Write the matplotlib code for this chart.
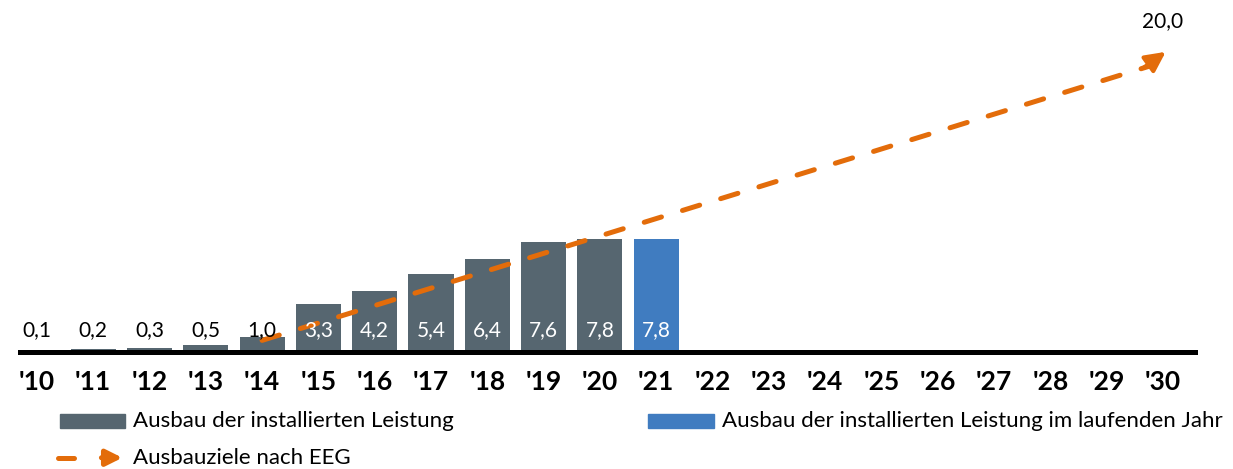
import numpy as np
import matplotlib
matplotlib.use('Agg')
from matplotlib import pyplot as plt
import matplotlib.patches as mpatches
from matplotlib.lines import Line2D

plt.rcParams['font.family'] = ['Lato', 'DejaVu Sans']

# installed capacity additions per year (GW)
years = np.arange(2010, 2022)
values = [0.1, 0.2, 0.3, 0.5, 1.0, 3.3, 4.2, 5.4, 6.4, 7.6, 7.8, 7.8]
current_year = 2021
axis_years = np.arange(2010, 2031)
tick_labels = ["'%02d" % (y % 100) for y in axis_years]

# EEG target path
goal_years = [2014, 2030]
goal_values = [0.8, 20.0]
goal_label = '20,0'

gray = '#566670'
blue = '#407cc0'
orange = '#e36c0a'

fig = plt.figure(figsize=(12.33, 4.69), dpi=100)
ax = fig.add_axes([0.0162, 0.2495, 0.953, 0.742])

colors = [blue if y == current_year else gray for y in years]
ax.bar(years, values, width=0.8, color=colors, zorder=2)

for y, v in zip(years, values):
    c = 'white' if v > 2 else 'black'
    ax.text(y, 1.5, ('%.1f' % v).replace('.', ','), ha='center', va='center',
            fontsize=15, color=c, zorder=4)

# dashed target line with arrow head
x0, x1 = goal_years
y0, y1 = goal_values
t_end = 0.985
xe = x0 + (x1 - x0) * t_end
ye = y0 + (y1 - y0) * t_end
ax.plot([x0, xe], [y0, ye], color=orange, lw=3.6, dashes=(3.6, 4.4),
        dash_capstyle='round', solid_capstyle='round', zorder=3)
ax.annotate('', xy=(x1 + 0.05, y1 + 0.7), xytext=(xe - 0.1, ye - 0.1),
            arrowprops=dict(arrowstyle='-|>', color=orange, lw=3.0,
                            mutation_scale=30, shrinkA=0, shrinkB=0),
            zorder=3)
ax.text(x1, 22.8, goal_label, ha='center', va='center', fontsize=15)

ax.axhline(0, color='black', lw=3.6, zorder=5, clip_on=False)
ax.set_xlim(2009.7, 2030.57)
ax.set_ylim(0, 24)
ax.set_xticks(axis_years)
ax.set_xticklabels(tick_labels, fontsize=19, fontweight='bold')
ax.tick_params(axis='x', length=0, pad=13)
ax.set_yticks([])
for s in ax.spines.values():
    s.set_visible(False)

# legend
r1 = 0.1023
fig.patches.append(mpatches.Rectangle((0.0487, r1 - 0.015), 0.0527, 0.030,
                                      color=gray, transform=fig.transFigure))
fig.text(0.1079, r1, 'Ausbau der installierten Leistung', va='center', fontsize=16)
fig.patches.append(mpatches.Rectangle((0.5256, r1 - 0.015), 0.0535, 0.030,
                                      color=blue, transform=fig.transFigure))
fig.text(0.5856, r1, 'Ausbau der installierten Leistung im laufenden Jahr',
         va='center', fontsize=16)
r2 = 0.024
fig.lines.append(Line2D([0.047, 0.060], [r2, r2], color=orange, lw=3.6,
                        solid_capstyle='round', transform=fig.transFigure))
fig.patches.append(mpatches.FancyArrowPatch((0.080, r2), (0.1015, r2),
                                            arrowstyle='-|>', color=orange, lw=3.6,
                                            mutation_scale=24,
                                            transform=fig.transFigure))
fig.text(0.1079, r2, 'Ausbauziele nach EEG', va='center', fontsize=16)

fig.savefig('out.png', dpi=100)
